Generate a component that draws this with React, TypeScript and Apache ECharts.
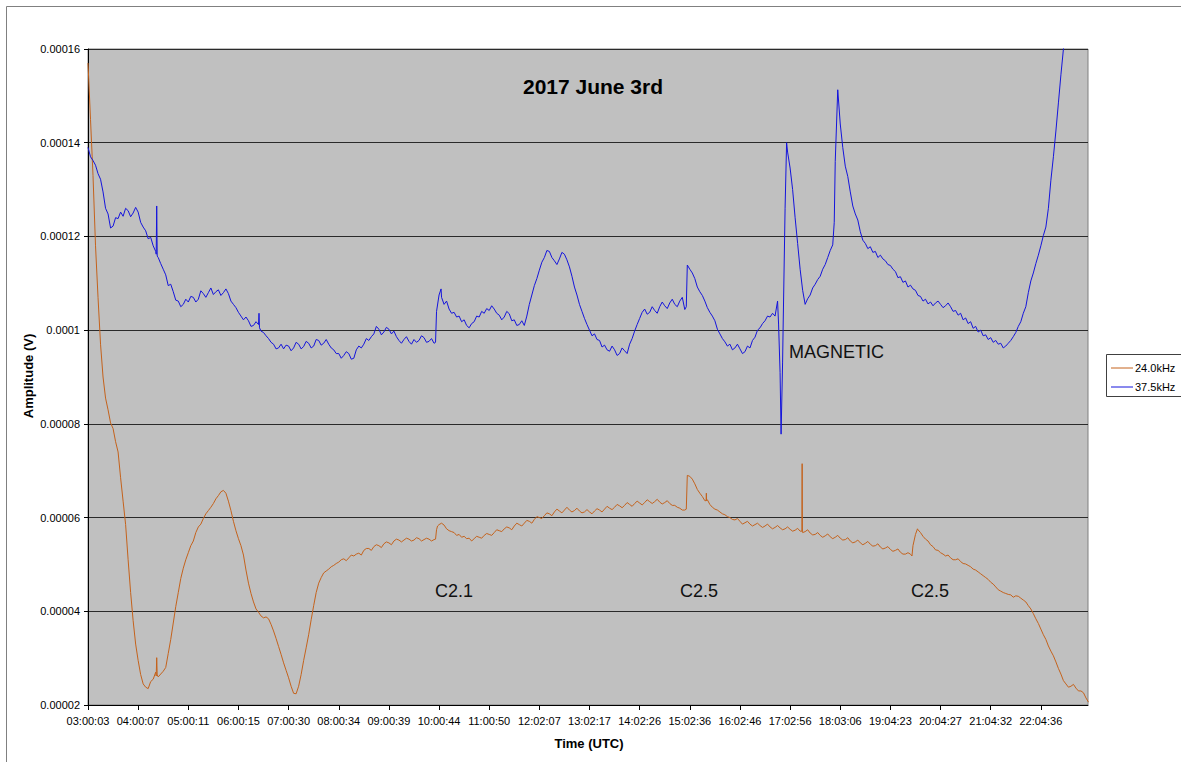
import React, { useEffect, useRef } from "react";
import * as echarts from "echarts";

// Hour-mark labels along the time axis (one per axis unit)
const timeLabels = [
  "03:00:03", "04:00:07", "05:00:11", "06:00:15", "07:00:30", "08:00:34",
  "09:00:39", "10:00:44", "11:00:50", "12:02:07", "13:02:17", "14:02:26",
  "15:02:36", "16:02:46", "17:02:56", "18:03:06", "19:04:23", "20:04:27",
  "21:04:32", "22:04:36",
];
const timeEnd = 19.94; // last sample, in hour-mark units

// Amplitudes in units of 1e-5 V, sampled every 0.05 hour-mark (one row per hour mark)
const SCALE = 1e-5;
const STEP = 0.05;

const amp24kHz = [
  15.70, 14.50, 13.30, 11.80, 10.70, 9.70, 9.00, 8.55, 8.30, 8.02, 7.90, 7.62, 7.40, 6.85, 6.35, 5.85, 5.10, 4.40, 3.80, 3.30,
  2.95, 2.65, 2.45, 2.38, 2.35, 2.50, 2.55, 2.70, 2.60, 2.66, 2.72, 2.80, 3.10, 3.40, 3.75, 4.10, 4.40, 4.70, 4.92, 5.10,
  5.25, 5.40, 5.50, 5.68, 5.80, 5.86, 5.98, 6.08, 6.15, 6.22, 6.30, 6.40, 6.47, 6.55, 6.58, 6.52, 6.35, 6.15, 5.92, 5.72,
  5.55, 5.40, 5.20, 4.88, 4.60, 4.38, 4.20, 4.05, 3.98, 3.90, 3.86, 3.88, 3.84, 3.72, 3.58, 3.42, 3.25, 3.08, 2.90, 2.74,
  2.58, 2.40, 2.25, 2.24, 2.40, 2.65, 2.95, 3.22, 3.50, 3.82, 4.12, 4.40, 4.60, 4.72, 4.82, 4.86, 4.90, 4.95, 4.98, 5.02,
  5.05, 5.10, 5.12, 5.08, 5.14, 5.20, 5.18, 5.22, 5.24, 5.20, 5.30, 5.34, 5.34, 5.30, 5.38, 5.42, 5.40, 5.36, 5.44, 5.48,
  5.46, 5.42, 5.50, 5.54, 5.52, 5.48, 5.52, 5.56, 5.54, 5.50, 5.52, 5.57, 5.55, 5.50, 5.53, 5.56, 5.54, 5.50, 5.53, 5.74,
  5.85, 5.88, 5.84, 5.76, 5.72, 5.70, 5.68, 5.62, 5.64, 5.58, 5.60, 5.55, 5.56, 5.50, 5.55, 5.60, 5.58, 5.56, 5.62, 5.66,
  5.64, 5.62, 5.68, 5.74, 5.72, 5.70, 5.76, 5.80, 5.78, 5.74, 5.82, 5.88, 5.85, 5.82, 5.88, 5.94, 5.92, 5.88, 5.96, 6.02,
  6.00, 5.98, 6.04, 6.10, 6.08, 6.04, 6.12, 6.18, 6.14, 6.10, 6.16, 6.22, 6.16, 6.12, 6.15, 6.20, 6.14, 6.10, 6.12, 6.17,
  6.12, 6.08, 6.14, 6.19, 6.16, 6.12, 6.18, 6.24, 6.20, 6.17, 6.22, 6.28, 6.25, 6.21, 6.26, 6.32, 6.28, 6.24, 6.30, 6.35,
  6.31, 6.27, 6.32, 6.38, 6.34, 6.30, 6.34, 6.39, 6.33, 6.29, 6.32, 6.36, 6.30, 6.26, 6.26, 6.22, 6.20, 6.16, 6.16, 6.90,
  6.88, 6.82, 6.72, 6.60, 6.52, 6.45, 6.36, 6.38, 6.28, 6.22, 6.18, 6.16, 6.12, 6.08, 6.06, 6.02, 6.00, 5.96, 5.95, 5.98,
  5.92, 5.86, 5.89, 5.92, 5.86, 5.82, 5.85, 5.88, 5.83, 5.79, 5.82, 5.86, 5.80, 5.76, 5.79, 5.83, 5.78, 5.74, 5.76, 5.80,
  5.75, 5.71, 5.73, 5.77, 5.71, 5.68, 5.70, 5.74, 5.67, 5.63, 5.64, 5.68, 5.62, 5.58, 5.61, 5.65, 5.59, 5.55, 5.58, 5.62,
  5.56, 5.52, 5.53, 5.57, 5.50, 5.46, 5.48, 5.52, 5.46, 5.42, 5.45, 5.49, 5.43, 5.39, 5.40, 5.44, 5.37, 5.33, 5.35, 5.38,
  5.32, 5.28, 5.30, 5.33, 5.26, 5.22, 5.22, 5.25, 5.22, 5.40, 5.64, 5.74, 5.68, 5.60, 5.54, 5.50, 5.42, 5.38, 5.31, 5.30,
  5.25, 5.22, 5.18, 5.20, 5.14, 5.10, 5.10, 5.12, 5.06, 5.02, 5.01, 4.98, 4.95, 4.90, 4.88, 4.84, 4.80, 4.76, 4.72, 4.68,
  4.62, 4.58, 4.52, 4.46, 4.43, 4.40, 4.38, 4.36, 4.35, 4.30, 4.33, 4.32, 4.28, 4.24, 4.20, 4.12, 4.05, 3.95, 3.84, 3.74,
  3.62, 3.50, 3.40, 3.26, 3.15, 3.05, 2.92, 2.78, 2.66, 2.52, 2.45, 2.38, 2.40, 2.44, 2.36, 2.30, 2.30, 2.26, 2.15, 2.06,
];

// Short-lived features of the 24.0 kHz trace: [hour-mark, amplitude 1e-5 V]
const events24kHz: [number, number][] = [
  [1.36, 2.62], [1.37, 3.01], [1.38, 2.64],
  [6.93, 5.54], [6.97, 5.82],
  [11.93, 6.18],
  [12.325, 6.36], [12.33, 6.52], [12.335, 6.36],
  [14.235, 5.71], [14.24, 7.15], [14.245, 5.71],
  [16.43, 5.18], [16.54, 5.76],
];

const amp37k5Hz = [
  13.90, 13.70, 13.62, 13.52, 13.34, 13.22, 12.95, 12.60, 12.48, 12.18, 12.22, 12.40, 12.38, 12.52, 12.43, 12.60, 12.55, 12.42, 12.50, 12.62,
  12.52, 12.30, 12.20, 12.12, 11.95, 11.98, 11.80, 11.68, 11.55, 11.42, 11.30, 11.18, 10.95, 10.98, 10.82, 10.64, 10.62, 10.50, 10.55, 10.66,
  10.60, 10.72, 10.70, 10.60, 10.66, 10.84, 10.78, 10.70, 10.80, 10.90, 10.76, 10.82, 10.86, 10.74, 10.80, 10.88, 10.78, 10.62, 10.55, 10.48,
  10.38, 10.30, 10.22, 10.28, 10.20, 10.08, 10.10, 10.18, 10.12, 9.98, 9.95, 9.88, 9.82, 9.74, 9.70, 9.60, 9.62, 9.70, 9.60, 9.68,
  9.66, 9.56, 9.62, 9.74, 9.70, 9.60, 9.65, 9.76, 9.72, 9.62, 9.66, 9.80, 9.78, 9.68, 9.72, 9.80, 9.70, 9.62, 9.58, 9.50,
  9.50, 9.40, 9.46, 9.54, 9.50, 9.38, 9.40, 9.58, 9.66, 9.62, 9.70, 9.82, 9.78, 9.86, 9.92, 10.08, 10.02, 9.90, 9.96, 10.06,
  10.02, 9.92, 9.98, 9.86, 9.78, 9.72, 9.80, 9.86, 9.76, 9.70, 9.80, 9.74, 9.78, 9.88, 9.84, 9.74, 9.76, 9.82, 9.72, 10.40,
  10.75, 10.70, 10.55, 10.62, 10.45, 10.36, 10.38, 10.28, 10.30, 10.18, 10.22, 10.10, 10.05, 10.14, 10.18, 10.30, 10.28, 10.40, 10.36, 10.46,
  10.42, 10.52, 10.45, 10.36, 10.32, 10.22, 10.28, 10.40, 10.35, 10.20, 10.22, 10.10, 10.12, 10.20, 10.10, 10.30, 10.55, 10.75, 10.95, 11.10,
  11.28, 11.45, 11.55, 11.70, 11.68, 11.55, 11.48, 11.40, 11.52, 11.66, 11.62, 11.50, 11.35, 11.15, 10.92, 10.75, 10.55, 10.40, 10.25, 10.12,
  10.00, 9.88, 9.92, 9.80, 9.78, 9.64, 9.68, 9.58, 9.55, 9.66, 9.58, 9.46, 9.50, 9.62, 9.56, 9.50, 9.70, 9.82, 9.98, 10.12,
  10.25, 10.38, 10.45, 10.34, 10.38, 10.50, 10.42, 10.36, 10.50, 10.60, 10.52, 10.46, 10.58, 10.66, 10.55, 10.50, 10.62, 10.70, 10.44, 11.39,
  11.30, 11.22, 11.10, 10.92, 10.82, 10.74, 10.62, 10.48, 10.38, 10.30, 10.20, 10.02, 9.92, 9.82, 9.75, 9.66, 9.70, 9.58, 9.62, 9.70,
  9.60, 9.50, 9.54, 9.66, 9.62, 9.78, 9.85, 10.00, 10.05, 10.14, 10.20, 10.30, 10.28, 10.36, 10.30, 10.62, 9.10, 9.30, 12.60, 13.80,
  13.46, 13.00, 12.40, 11.85, 11.30, 10.85, 10.55, 10.67, 10.75, 10.90, 10.98, 11.08, 11.15, 11.30, 11.40, 11.55, 11.70, 11.82, 13.60, 15.13,
  14.40, 13.90, 13.50, 13.28, 12.95, 12.65, 12.48, 12.35, 12.10, 11.92, 11.85, 11.74, 11.78, 11.66, 11.68, 11.55, 11.60, 11.52, 11.48, 11.40,
  11.38, 11.30, 11.25, 11.12, 11.14, 11.02, 11.05, 10.92, 10.96, 10.88, 10.85, 10.74, 10.72, 10.62, 10.66, 10.56, 10.60, 10.52, 10.58, 10.62,
  10.55, 10.48, 10.52, 10.58, 10.50, 10.40, 10.42, 10.32, 10.36, 10.22, 10.26, 10.14, 10.18, 10.04, 10.08, 9.96, 10.00, 9.88, 9.90, 9.80,
  9.84, 9.74, 9.78, 9.70, 9.72, 9.62, 9.66, 9.72, 9.78, 9.86, 9.95, 10.08, 10.18, 10.36, 10.50, 10.80, 11.05, 11.22, 11.42, 11.60,
  11.80, 12.02, 12.20, 12.60, 13.20, 13.70, 14.25, 14.85, 15.45, 16.00, 16.50, 17.00, 17.50, 18.00, 18.60, 19.20, 19.80, 20.40, 21.00, 21.50,
];

// Short-lived features of the 37.5 kHz trace: [hour-mark, amplitude 1e-5 V]
const events37k5Hz: [number, number][] = [
  [1.36, 11.62], [1.37, 12.65], [1.38, 11.58],
  [3.41, 10.36], [3.42, 10.05],
  [6.93, 9.74], [7.04, 10.88],
  [11.93, 10.50],
  [13.77, 10.13], [13.82, 7.78], [13.86, 10.00], [13.93, 14.00],
  [14.88, 12.30],
];

const seriesNames = ["24.0kHz", "37.5kHz"];
const seriesColors = ["#c4621c", "#1414dc"];

// Annotations written on the plot: [text, x px, y px]
const notes: [string, number, number][] = [
  ["MAGNETIC", 789, 352],
  ["C2.1", 435, 591],
  ["C2.5", 680, 591],
  ["C2.5", 911, 591],
];

const FONT = "'Liberation Sans', Arial, Helvetica, sans-serif";

function buildSeries(values: number[], events: [number, number][]) {
  const pts: [number, number][] = values.map((v, i) => [Math.round(i * STEP * 1000) / 1000, v]);
  pts.push(...events);
  pts.sort((a, b) => a[0] - b[0]);
  return pts.map(([t, v]) => [t, v * SCALE]);
}

function formatVolts(v: number) {
  return String(parseFloat(v.toFixed(7)));
}

export default function App() {
  const ref = useRef<HTMLDivElement>(null);

  useEffect(() => {
    if (!ref.current) return;
    const chart = echarts.init(ref.current, null, { renderer: "svg" });

    const legendItems = seriesNames.flatMap((name, i) => {
      const y = 368 + i * 19;
      return [
        {
          type: "line",
          shape: { x1: 1111, y1: y, x2: 1133, y2: y },
          style: { stroke: seriesColors[i], lineWidth: 1 },
        },
        {
          type: "text",
          x: 1135,
          y,
          style: {
            text: name,
            fill: "#000",
            font: `11px ${FONT}`,
            verticalAlign: "middle",
            align: "left",
          },
        },
      ];
    });

    chart.setOption({
      animation: false,
      backgroundColor: "#ffffff",
      grid: {
        left: 88,
        top: 49,
        width: 1000,
        height: 656,
        show: true,
        backgroundColor: "#c0c0c0",
        borderColor: "#808080",
        borderWidth: 1,
      },
      xAxis: {
        type: "value",
        min: 0,
        max: timeEnd,
        interval: 1,
        axisLine: { show: true, onZero: false, lineStyle: { color: "#000", width: 1 } },
        axisTick: { show: true, length: 5, lineStyle: { color: "#000" } },
        splitLine: { show: false },
        axisLabel: {
          margin: 10,
          color: "#000",
          fontSize: 11,
          fontFamily: FONT,
          showMaxLabel: false,
          formatter: (v: number) => {
            const i = Math.round(v);
            return Math.abs(v - i) < 1e-6 && timeLabels[i] ? timeLabels[i] : "";
          },
        },
      },
      yAxis: {
        type: "value",
        min: 0.00002,
        max: 0.00016,
        interval: 0.00002,
        axisLine: { show: true, lineStyle: { color: "#000", width: 1 } },
        axisTick: { show: true, length: 4, lineStyle: { color: "#000" } },
        splitLine: { show: true, lineStyle: { color: "#2a2a2a", width: 1 } },
        axisLabel: {
          margin: 8,
          color: "#000",
          fontSize: 11,
          fontFamily: FONT,
          formatter: formatVolts,
        },
      },
      series: [
        {
          name: seriesNames[0],
          type: "line",
          data: buildSeries(amp24kHz, events24kHz),
          showSymbol: false,
          symbol: "none",
          lineStyle: { color: seriesColors[0], width: 1 },
          itemStyle: { color: seriesColors[0] },
          clip: true,
        },
        {
          name: seriesNames[1],
          type: "line",
          data: buildSeries(amp37k5Hz, events37k5Hz),
          showSymbol: false,
          symbol: "none",
          lineStyle: { color: seriesColors[1], width: 1 },
          itemStyle: { color: seriesColors[1] },
          clip: true,
        },
      ],
      graphic: [
        {
          type: "rect",
          shape: { x: 6.5, y: 6.5, width: 1300, height: 900 },
          style: { fill: "none", stroke: "#808080", lineWidth: 1 },
          silent: true,
        },
        {
          type: "text",
          x: 593,
          y: 86,
          style: {
            text: "2017 June 3rd",
            fill: "#000",
            font: `bold 21px ${FONT}`,
            align: "center",
            verticalAlign: "middle",
          },
        },
        {
          type: "text",
          x: 589,
          y: 743,
          style: {
            text: "Time (UTC)",
            fill: "#000",
            font: `bold 13px ${FONT}`,
            align: "center",
            verticalAlign: "middle",
          },
        },
        {
          type: "text",
          x: 28,
          y: 376,
          rotation: Math.PI / 2,
          style: {
            text: "Amplitude (V)",
            fill: "#000",
            font: `bold 13px ${FONT}`,
            align: "center",
            verticalAlign: "middle",
          },
        },
        ...notes.map(([text, x, y]) => ({
          type: "text",
          x,
          y,
          style: {
            text,
            fill: "#111",
            font: `18px ${FONT}`,
            align: "left",
            verticalAlign: "middle",
          },
        })),
        {
          type: "rect",
          shape: { x: 1106.5, y: 354.5, width: 120, height: 42 },
          style: { fill: "#ffffff", stroke: "#404040", lineWidth: 1 },
        },
        ...legendItems,
      ],
    });

    return () => chart.dispose();
  }, []);

  return (
    <div
      ref={ref}
      style={{ position: "fixed", left: 0, top: 0, width: 1181, height: 762, background: "#fff" }}
    />
  );
}
